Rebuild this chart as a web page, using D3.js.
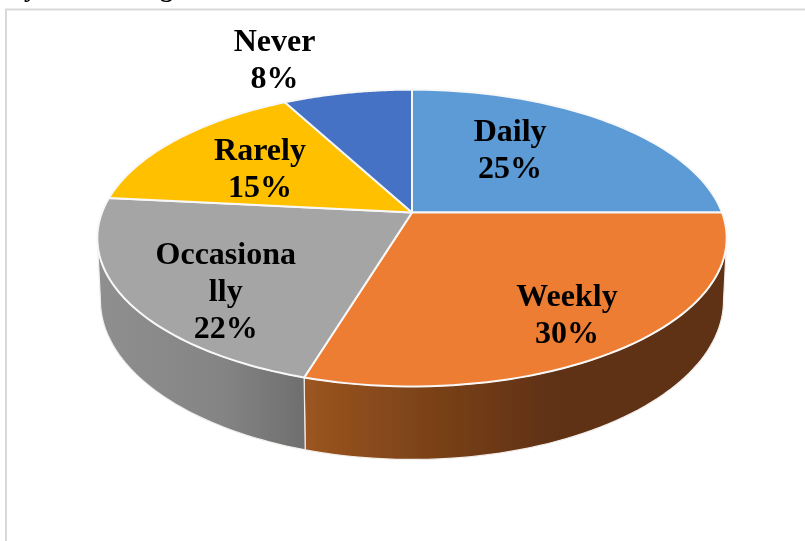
<!DOCTYPE html>
<html>
<head>
<meta charset="utf-8">
<script src="https://cdn.jsdelivr.net/npm/d3@7/dist/d3.min.js"></script>
<style>
html,body{margin:0;padding:0;background:#fff;overflow:hidden}
svg{display:block}
text{font-family:"Liberation Serif","Times New Roman",serif;font-weight:bold;fill:#000}
</style>
</head>
<body>
<svg id="chart" width="805" height="541"></svg>
<script>
// ---- data ----
const categories = ["Daily", "Weekly", "Occasionally", "Rarely", "Never"];
const values = [25, 30, 22, 15, 8];
const labelLines = [["Daily"], ["Weekly"], ["Occasiona", "lly"], ["Rarely"], ["Never"]];
const colors = ["#5b9bd5", "#ed7d31", "#a5a5a5", "#ffc000", "#4472c4"];

// ---- layout ----
const W = 805, H = 541;
const cx = 412, cy = 212.5;          // pie apex on screen
const Rx = 310, Ry = 144;            // plane radii
const persp = 0.172;                 // perspective strength
const depth = 60.5;                  // wall height
const bottomScale = 0.99;            // lower rim is slightly narrower
const labelFrac = [0.6, 0.8, 0.6, 0.6, 1.3];
const labelNudge = [[-24.5, -6], [-9, -3], [-20, 29], [-6.6, 2], [-55, -4]];
const fontSize = 32, lineH = 37;

const svg = d3.select("#chart");
const defs = svg.append("defs");
defs.append("filter").attr("id", "soft")
  .attr("x", "-5%").attr("y", "-5%").attr("width", "110%").attr("height", "110%")
  .append("feGaussianBlur").attr("stdDeviation", 0.45);
const root = svg.append("g").attr("filter", "url(#soft)");

// the chart's 3-D view bends the slice boundaries slightly
const deg = Math.PI / 180;
const view = d3.scaleLinear()
  .domain([0, 90, 198, 277.2, 331.2, 360].map(d => d * deg))
  .range([0, 90, 196.9, 275.9, 331.8, 360].map(d => d * deg));

function project(theta, f = 1, lower = false, warp = true) {
  const t = warp ? view(theta) : theta;
  const u = f * Math.sin(t), v = f * Math.cos(t), w = 1 + persp * v;
  const s = lower ? bottomScale : 1;
  return [cx + s * Rx * u / w, cy - Ry * v / w + (lower ? depth / w : 0)];
}
const samples = (a, b) => d3.range(0, 61).map(i => a + (b - a) * i / 60);
const line = d3.line();

const pieGen = d3.pie().sort(null).value(d => d);
const arcs = pieGen(values);

// frame
svg.insert("path", "g")
  .attr("d", `M6,${H} L6,9.5 L${W},9.5`)
  .attr("fill", "none").attr("stroke", "#d9d9d9").attr("stroke-width", 2);

// clipped line of the caption above the chart
root.append("text").attr("x", 24).attr("y", -3).attr("font-size", 26).text("y");
root.append("text").attr("x", 160).attr("y", -3.5).attr("font-size", 26).text("g");

// side walls: visible from the right silhouette to the left silhouette
const wallFrom = view.invert(Math.PI - Math.acos(persp));
const wallTo = view.invert(Math.PI + Math.acos(persp));

const wallGrad = [
  {slice: 1, id: "wallWeekly", x1: 306, x2: 560,
   stops: [[0, "#9b5520"], [0.45, "#7d4319"], [1, "#5e3013"]]},
  {slice: 2, id: "wallOcc", x1: 100, x2: 306,
   stops: [[0, "#8f8f8f"], [0.6, "#848484"], [1, "#6e6e6e"]]}
];
wallGrad.forEach(g => {
  const lg = defs.append("linearGradient").attr("id", g.id)
    .attr("gradientUnits", "userSpaceOnUse")
    .attr("x1", g.x1).attr("x2", g.x2).attr("y1", 0).attr("y2", 0);
  g.stops.forEach(s => lg.append("stop").attr("offset", s[0]).attr("stop-color", s[1]));

  const a = arcs[g.slice];
  const t0 = Math.max(a.startAngle, wallFrom), t1 = Math.min(a.endAngle, wallTo);
  const top = samples(t0, t1).map(t => project(t));
  const bot = samples(t1, t0).map(t => project(t, 1, true));
  root.append("path")
    .attr("d", line(top.concat(bot)) + "Z")
    .attr("fill", `url(#${g.id})`)
    .attr("stroke", "#f2eeea").attr("stroke-width", 1.2).attr("stroke-linejoin", "round");
});

// top face
arcs.forEach((a, i) => {
  const rim = samples(a.startAngle, a.endAngle).map(t => project(t));
  root.append("path")
    .attr("d", line([[cx, cy]].concat(rim)) + "Z")
    .attr("fill", colors[i])
    .attr("stroke", "#f8f8f8").attr("stroke-width", 2).attr("stroke-linejoin", "round");
});

// labels
arcs.forEach((a, i) => {
  const mid = (a.startAngle + a.endAngle) / 2;
  const p = project(mid, labelFrac[i], false, false);
  const x = p[0] + labelNudge[i][0], y = p[1] + labelNudge[i][1];
  const lines = labelLines[i].concat(d3.format(".0f")(a.value / d3.sum(values) * 100) + "%");
  const first = y + 10 - (lines.length - 1) * lineH / 2;
  const t = root.append("text").attr("text-anchor", "middle").attr("font-size", fontSize);
  lines.forEach((s, j) => t.append("tspan").attr("x", x).attr("y", first + j * lineH).text(s));
});
</script>
</body>
</html>
